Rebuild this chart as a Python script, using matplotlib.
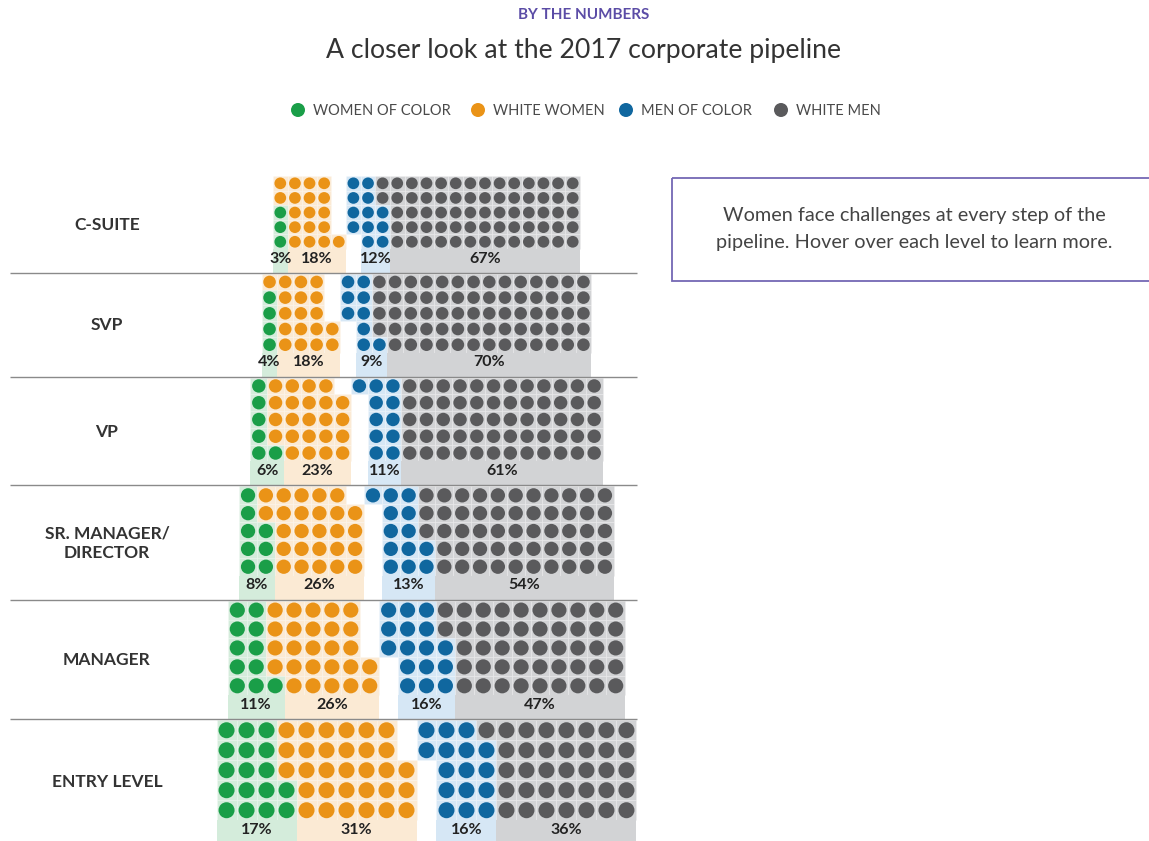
import matplotlib
matplotlib.use("Agg")
import matplotlib.pyplot as plt
from matplotlib.patches import Circle, Rectangle

# ---------------- data ----------------
levels = ["C-SUITE", "SVP", "VP", "SR. MANAGER/\nDIRECTOR", "MANAGER", "ENTRY LEVEL"]
series_names = ["WOMEN OF COLOR", "WHITE WOMEN", "MEN OF COLOR", "WHITE MEN"]
# number of dots drawn per level (each level = 100 dots)
woc_dots = [3, 4, 6, 8, 11, 17]
ww_dots = [18, 18, 23, 26, 26, 31]
moc_dots = [12, 9, 11, 13, 16, 16]
wm_dots = [67, 69, 60, 53, 47, 36]
# percentage labels
woc_pct = [3, 4, 6, 8, 11, 17]
ww_pct = [18, 18, 23, 26, 26, 31]
moc_pct = [12, 9, 11, 13, 16, 16]
wm_pct = [67, 70, 61, 54, 47, 36]

# ---------------- style ----------------
dot_colors = ["#1a9e48", "#ea9317", "#10679f", "#5a5a5c"]
bg_colors = ["#d4ecdb", "#fbead4", "#d6e7f5", "#d2d3d5"]
FONT = "Lato"
plt.rcParams["font.family"] = [FONT, "DejaVu Sans"]

W, H = 1149, 841
fig = plt.figure(figsize=(W / 100, H / 100), dpi=100)
ax = fig.add_axes([0, 0, 1, 1])
ax.set_xlim(0, W)
ax.set_ylim(H, 0)
ax.axis("off")

# ---------------- header ----------------
ax.text(584, 15, "BY THE NUMBERS", ha="center", va="center", fontsize=11,
        fontweight="bold", color="#5b4ca6")
ax.text(584, 50, "A closer look at the 2017 corporate pipeline", ha="center",
        va="center", fontsize=19.2, color="#333333")

legend_x = [298, 478, 626, 781]
for name, col, lx in zip(series_names, dot_colors, legend_x):
    ax.add_patch(Circle((lx, 110), 7, color=col, lw=0))
    ax.text(lx + 15, 110.5, name, ha="left", va="center", fontsize=10.5, color="#4a4a4a")

# info box
ax.add_patch(Rectangle((672, 178), 520, 103, fill=False, edgecolor="#7468b4", lw=1.3))
ax.text(914, 229, "Women face challenges at every step of the\npipeline. Hover over each level to learn more.",
        ha="center", va="center", fontsize=14.3, color="#444444", linespacing=1.75)

# ---------------- pipeline ----------------
NCOL, NROW = 21, 5
xc = 426.5
top = 176.0
band_h = 24.0
s0, ds = 14.62, 1.075

for i, lvl in enumerate(levels):
    s = s0 + ds * i
    counts = [woc_dots[i], ww_dots[i], moc_dots[i], wm_dots[i]]
    pcts = [woc_pct[i], ww_pct[i], moc_pct[i], wm_pct[i]]
    grid = [[None] * NCOL for _ in range(NROW)]
    women = [0] * counts[0] + [1] * counts[1]
    for k, cat in enumerate(women):
        grid[NROW - 1 - k % NROW][k // NROW] = cat
    men = [3] * counts[3] + [2] * counts[2]
    for k, cat in enumerate(men):
        grid[k % NROW][NCOL - 1 - k // NROW] = cat

    def cx(c):
        return xc + (c - (NCOL - 1) / 2) * s

    def cy(r):
        return top + (r + 0.5) * s

    r_dot = 0.4 * s
    for r in range(NROW):
        for c in range(NCOL):
            cat = grid[r][c]
            if cat is None:
                continue
            ax.add_patch(Rectangle((cx(c) - s / 2, cy(r) - s / 2), s, s,
                                   facecolor=bg_colors[cat], edgecolor=(1, 1, 1, 0.3),
                                   lw=0.4))
            ax.add_patch(Circle((cx(c), cy(r)), r_dot, color=dot_colors[cat], lw=0))

    # label band under bottom row
    grid_bottom = top + NROW * s
    bottom_row = grid[NROW - 1]
    for cat in range(4):
        cols = [c for c in range(NCOL) if bottom_row[c] == cat]
        if not cols:
            continue
        x0 = cx(min(cols)) - s / 2
        x1 = cx(max(cols)) + s / 2
        ax.add_patch(Rectangle((x0, grid_bottom), x1 - x0, band_h,
                               facecolor=bg_colors[cat], lw=0))
        ax.text((x0 + x1) / 2, grid_bottom + 9.5, f"{pcts[cat]}%", ha="center",
                va="center", fontsize=11.5, fontweight="bold", color="#222222")

    sep = grid_bottom + band_h
    ax.text(107, (top + sep) / 2, lvl, ha="center", va="center", fontsize=12.5,
            fontweight="bold", color="#333333", linespacing=1.25)
    if i < len(levels) - 1:
        ax.plot([10, 637], [sep, sep], color="#8a8a8a", lw=1.0, solid_capstyle="butt")
    top = sep + 1

fig.savefig("out.png", dpi=100)
